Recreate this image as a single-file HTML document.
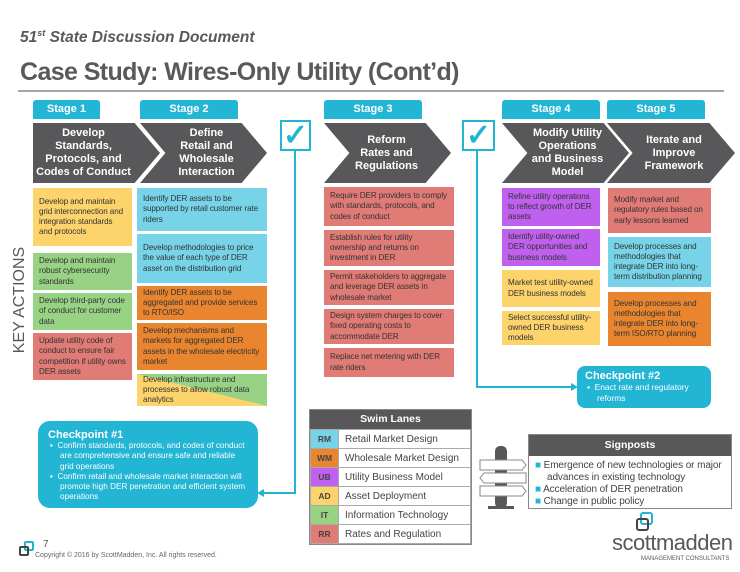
<!DOCTYPE html>
<html><head><meta charset="utf-8"><style>
*{margin:0;padding:0;box-sizing:border-box}
body{width:740px;height:572px;background:#fff;font-family:"Liberation Sans",sans-serif;position:relative;overflow:hidden}
.a{position:absolute}
.tab{position:absolute;top:100px;height:19px;background:#22b5d4;color:#fff;font-weight:bold;font-size:11px;text-align:center;line-height:19px;border-radius:3px 3px 0 0}
.chev{position:absolute;top:123px;height:60px;color:#fff;font-weight:bold;font-size:11px;display:flex;align-items:center;justify-content:center;text-align:center;line-height:13px;background:#58585a}
.bx{position:absolute;font-size:8.1px;line-height:10.2px;color:#333;padding:2px 6px;display:flex;align-items:center;letter-spacing:-0.1px}
.y{background:#fdd46c}.g{background:#98d385}.r{background:#e07b76}.c{background:#77d4e8}.o{background:#e9852e}.p{background:#c060ef}
td{border:1px solid #aaa}
</style></head><body>
<div class="a" style="left:20px;top:28px;font-size:15.5px;font-weight:bold;font-style:italic;color:#595959">51<sup style="font-size:9px">st</sup> State Discussion Document</div>
<div class="a" style="left:20px;top:58px;font-size:25px;font-weight:bold;color:#595959;letter-spacing:-0.6px">Case Study: Wires-Only Utility (Cont’d)</div>
<div class="a" style="left:18px;top:90px;width:706px;height:2px;background:#a6a6a6"></div>

<div class="tab" style="left:33px;width:67px">Stage 1</div>
<div class="tab" style="left:140px;width:98px">Stage 2</div>
<div class="tab" style="left:324px;width:98px">Stage 3</div>
<div class="tab" style="left:502px;width:98px">Stage 4</div>
<div class="tab" style="left:607px;width:98px">Stage 5</div>

<div class="chev" style="left:33px;width:127px;clip-path:polygon(0 0,80% 0,100% 50%,80% 100%,0 100%);padding-right:26px">Develop<br>Standards,<br>Protocols, and<br>Codes of Conduct</div>
<div class="chev" style="left:140px;width:127px;clip-path:polygon(0 0,80% 0,100% 50%,80% 100%,0 100%,20% 50%);padding-left:24px;padding-right:18px">Define<br>Retail and<br>Wholesale<br>Interaction</div>
<div class="chev" style="left:324px;width:127px;clip-path:polygon(0 0,80% 0,100% 50%,80% 100%,0 100%,20% 50%);padding-left:20px;padding-right:22px">Reform<br>Rates and<br>Regulations</div>
<div class="chev" style="left:502px;width:127px;clip-path:polygon(0 0,80% 0,100% 50%,80% 100%,0 100%,20% 50%);padding-left:22px;padding-right:18px">Modify Utility<br>Operations<br>and Business<br>Model</div>
<div class="chev" style="left:607px;width:128px;clip-path:polygon(0 0,80% 0,100% 50%,80% 100%,0 100%,20% 50%);padding-left:24px;padding-right:18px">Iterate and<br>Improve<br>Framework</div>

<div class="a" style="left:280px;top:120px;width:31px;height:31px;border:2px solid #22b5d4;color:#22b5d4;font-size:30px;line-height:27px;text-align:center;font-weight:bold">✓</div>
<div class="a" style="left:462px;top:120px;width:33px;height:31px;border:2px solid #22b5d4;color:#22b5d4;font-size:30px;line-height:27px;text-align:center;font-weight:bold">✓</div>
<svg class="a" style="left:0;top:0" width="740" height="572">
<polyline points="295,151 295,493 262,493" fill="none" stroke="#22b5d4" stroke-width="2"/>
<polygon points="257,493 264,489 264,497" fill="#22b5d4"/>
<polyline points="477,151 477,387 572,387" fill="none" stroke="#22b5d4" stroke-width="2"/>
<polygon points="578,387 571,383 571,391" fill="#22b5d4"/>
</svg>

<div class="a" style="left:-40px;top:290px;width:120px;height:20px;transform:rotate(-90deg);font-size:16px;color:#595959;text-align:center;white-space:nowrap;line-height:20px">KEY ACTIONS</div>

<div class="bx y" style="left:33px;top:188px;width:99px;height:58px">Develop and maintain grid interconnection and integration standards and protocols</div>
<div class="bx g" style="left:33px;top:253px;width:99px;height:37px">Develop and maintain robust cybersecurity standards</div>
<div class="bx g" style="left:33px;top:293px;width:99px;height:37px">Develop third-party code of conduct for customer data</div>
<div class="bx r" style="left:33px;top:333px;width:99px;height:47px">Update utility code of conduct to ensure fair competition if utility owns DER assets</div>

<div class="bx c" style="left:137px;top:188px;width:130px;height:43px">Identify DER assets to be supported by retail customer rate riders</div>
<div class="bx c" style="left:137px;top:234px;width:130px;height:49px">Develop methodologies to price the value of each type of DER asset on the distribution grid</div>
<div class="bx o" style="left:137px;top:286px;width:130px;height:34px">Identify DER assets to be aggregated and provide services to RTO/ISO</div>
<div class="bx o" style="left:137px;top:323px;width:130px;height:47px">Develop mechanisms and markets for aggregated DER assets in the wholesale electricity market</div>
<div class="bx" style="left:137px;top:374px;width:130px;height:32px;background:linear-gradient(to top right,#fdd46c 50%,#98d385 50%)">Develop infrastructure and processes to allow robust data analytics</div>

<div class="bx r" style="left:324px;top:187px;width:130px;height:39px">Require DER providers to comply with standards, protocols, and codes of conduct</div>
<div class="bx r" style="left:324px;top:230px;width:130px;height:36px">Establish rules for utility ownership and returns on investment in DER</div>
<div class="bx r" style="left:324px;top:270px;width:130px;height:35px">Permit stakeholders to aggregate and leverage DER assets in wholesale market</div>
<div class="bx r" style="left:324px;top:309px;width:130px;height:35px">Design system charges to cover fixed operating costs to accommodate DER</div>
<div class="bx r" style="left:324px;top:348px;width:130px;height:29px">Replace net metering with DER rate riders</div>

<div class="bx p" style="left:502px;top:188px;width:98px;height:38px">Refine utility operations to reflect growth of DER assets</div>
<div class="bx p" style="left:502px;top:229px;width:98px;height:37px">Identify utility-owned DER opportunities and business models</div>
<div class="bx y" style="left:502px;top:270px;width:98px;height:37px">Market test utility-owned DER business models</div>
<div class="bx y" style="left:502px;top:311px;width:98px;height:34px">Select successful utility-owned DER business models</div>

<div class="bx r" style="left:608px;top:188px;width:103px;height:45px">Modify market and regulatory rules based on early lessons learned</div>
<div class="bx c" style="left:608px;top:237px;width:103px;height:50px">Develop processes and methodologies that integrate DER into long-term distribution planning</div>
<div class="bx o" style="left:608px;top:292px;width:103px;height:54px">Develop processes and methodologies that integrate DER into long-term ISO/RTO planning</div>

<div class="a" style="left:577px;top:366px;width:134px;height:42px;background:#22b5d4;border-radius:8px;color:#fff;padding:4px 8px">
<div style="font-weight:bold;font-size:11px">Checkpoint #2</div>
<div style="font-size:8.4px;line-height:10.5px;padding-left:12px;text-indent:-10px">▪&nbsp;&nbsp;Enact rate and regulatory reforms</div></div>

<div class="a" style="left:38px;top:421px;width:220px;height:87px;background:#22b5d4;border-radius:12px;color:#fff;padding:8px 10px">
<div style="font-weight:bold;font-size:11px">Checkpoint #1</div>
<div style="font-size:8.2px;line-height:10.3px;padding-left:12px;text-indent:-10px">▪&nbsp;&nbsp;Confirm standards, protocols, and codes of conduct are comprehensive and ensure safe and reliable grid operations</div>
<div style="font-size:8.2px;line-height:10.3px;padding-left:12px;text-indent:-10px">▪&nbsp;&nbsp;Confirm retail and wholesale market interaction will promote high DER penetration and efficient system operations</div></div>

<div class="a" style="left:309px;top:409px;width:163px;border:1px solid #888">
<div style="height:19px;background:#58585a;color:#fff;font-weight:bold;font-size:10.5px;text-align:center;line-height:19px">Swim Lanes</div>
<table style="border-collapse:collapse;width:100%;font-size:10px;color:#444">
<tr style="height:19px"><td style="width:28px;background:#77d4e8;font-weight:bold;font-size:8.5px;text-align:center">RM</td><td style="padding-left:6px">Retail Market Design</td></tr>
<tr style="height:19px"><td style="background:#e9852e;font-weight:bold;font-size:8.5px;text-align:center">WM</td><td style="padding-left:6px">Wholesale Market Design</td></tr>
<tr style="height:19px"><td style="background:#c060ef;font-weight:bold;font-size:8.5px;text-align:center">UB</td><td style="padding-left:6px">Utility Business Model</td></tr>
<tr style="height:19px"><td style="background:#fdd46c;font-weight:bold;font-size:8.5px;text-align:center">AD</td><td style="padding-left:6px">Asset Deployment</td></tr>
<tr style="height:19px"><td style="background:#98d385;font-weight:bold;font-size:8.5px;text-align:center">IT</td><td style="padding-left:6px">Information Technology</td></tr>
<tr style="height:19px"><td style="background:#e07b76;font-weight:bold;font-size:8.5px;text-align:center">RR</td><td style="padding-left:6px">Rates and Regulation</td></tr>
</table></div>

<svg class="a" style="left:478px;top:446px" width="50" height="64">
<rect x="17" y="0" width="12" height="62" rx="5" fill="#58585a"/>
<rect x="10" y="60" width="26" height="3" fill="#58585a"/>
<polygon points="2,14 44,14 48,19 44,24 2,24" fill="#fff" stroke="#888"/>
<polygon points="6,27 48,27 48,37 6,37 2,32" fill="#fff" stroke="#888"/>
<polygon points="2,40 44,40 48,45 44,50 2,50" fill="#fff" stroke="#888"/>
</svg>

<div class="a" style="left:528px;top:434px;width:204px;height:75px;border:1px solid #888">
<div style="height:21px;background:#58585a;color:#fff;font-weight:bold;font-size:10.5px;text-align:center;line-height:21px">Signposts</div>
<div style="font-size:10px;color:#444;line-height:12px;padding:4px 4px 4px 6px;letter-spacing:-0.1px">
<div style="padding-left:12px;text-indent:-12px"><span style="color:#22b5d4">■</span> Emergence of new technologies or major advances in existing technology</div>
<div style="padding-left:12px;text-indent:-12px"><span style="color:#22b5d4">■</span> Acceleration of DER penetration</div>
<div style="padding-left:12px;text-indent:-12px"><span style="color:#22b5d4">■</span> Change in public policy</div></div></div>

<div class="a" style="left:640px;top:512px;width:13px;height:13px;border:2px solid #22b5d4;border-radius:3px"></div>
<div class="a" style="left:636px;top:518px;width:13px;height:13px;border:2px solid #444;border-radius:3px"></div>
<div class="a" style="left:612px;top:530px;font-size:22px;color:#58585a;letter-spacing:-0.5px">scottmadden</div>
<div class="a" style="left:641px;top:556px;font-size:6px;color:#58585a">MANAGEMENT CONSULTANTS</div>

<div class="a" style="left:24px;top:541px;width:10px;height:10px;border:2px solid #22b5d4;border-radius:2px"></div>
<div class="a" style="left:19px;top:546px;width:10px;height:10px;border:2px solid #444;border-radius:2px"></div>
<div class="a" style="left:43px;top:539px;font-size:10px;color:#555">7</div>
<div class="a" style="left:35px;top:552px;font-size:7px;color:#666">Copyright © 2016 by ScottMadden, Inc. All rights reserved.</div>
</body></html>
